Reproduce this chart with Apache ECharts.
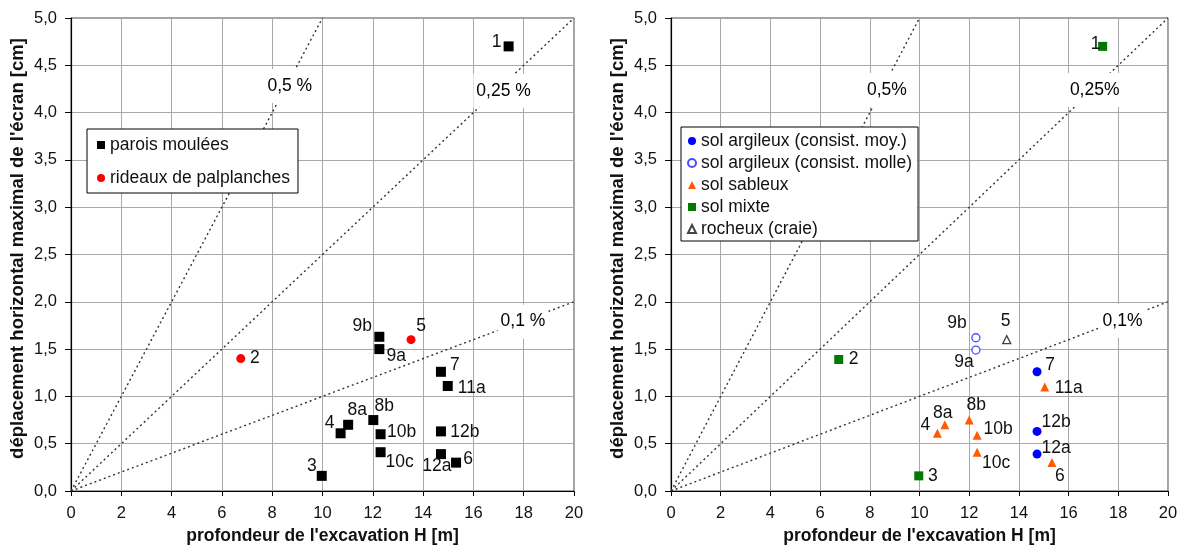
<!DOCTYPE html>
<html><head><meta charset="utf-8">
<script src="https://cdn.jsdelivr.net/npm/echarts@6/dist/echarts.min.js"></script>
<style>html,body{margin:0;padding:0;background:#fff}#c{width:1186px;height:552px}</style>
</head><body><div id="c"></div>
<script>
// ---------- DATA ----------
const xTicks = [0, 2, 4, 6, 8, 10, 12, 14, 16, 18, 20];
const yTicks = [0, 0.5, 1, 1.5, 2, 2.5, 3, 3.5, 4, 4.5, 5];

// Left chart
const paroisNames = ['1', '3', '4', '8a', '8b', '9b', '9a', '10b', '10c', '7', '11a', '12b', '12a', '6'];
const paroisH = [17.4, 9.97, 10.72, 11.02, 12.02, 12.26, 12.26, 12.31, 12.31, 14.71, 14.98, 14.71, 14.71, 15.31];
const paroisD = [4.70, 0.16, 0.61, 0.70, 0.75, 1.63, 1.50, 0.60, 0.41, 1.26, 1.11, 0.63, 0.39, 0.30];
const rideauxNames = ['2', '5'];
const rideauxH = [6.75, 13.52];
const rideauxD = [1.40, 1.60];

// Right chart
const argMoyNames = ['7', '12b', '12a'];
const argMoyH = [14.73, 14.73, 14.73];
const argMoyD = [1.26, 0.63, 0.39];
const argMolleNames = ['9b', '9a'];
const argMolleH = [12.27, 12.27];
const argMolleD = [1.62, 1.49];
const sableuxNames = ['11a', '8b', '8a', '4', '10b', '10c', '6'];
const sableuxH = [15.04, 12.0, 11.02, 10.72, 12.32, 12.32, 15.33];
const sableuxD = [1.10, 0.75, 0.70, 0.61, 0.59, 0.41, 0.30];
const mixteNames = ['1', '2', '3'];
const mixteH = [17.37, 6.75, 9.97];
const mixteD = [4.70, 1.39, 0.16];
const rocheuxNames = ['5'];
const rocheuxH = [13.51];
const rocheuxD = [1.60];

// Reference lines (ratio displacement / depth)
const refLineEnds = [[10, 5], [20, 5], [20, 2]];
const refLabelsLeft = ['0,5 %', '0,25 %', '0,1 %'];
const refLabelsRight = ['0,5%', '0,25%', '0,1%'];
const refLabelAtLeft = [[8.7, 4.28], [17.2, 4.23], [17.97, 1.79]];
const refLabelAtRight = [[8.69, 4.24], [17.05, 4.24], [18.17, 1.80]];

// ---------- STYLE / LAYOUT ----------
const FONT = '"Liberation Sans", Arial, sans-serif';
const TXT = '#111';
const offL = {'1':[-12,-4],'2':[14,0],'3':[-10,-10],'4':[-11,-10],'8a':[9,-15],'8b':[11,-14],'9b':[-17,-11],'9a':[17,7],'5':[10,-13],'10b':[21,-2],'10c':[19,10],'7':[14,-7],'11a':[24,2],'12b':[24,1],'12a':[-4,12],'6':[12,-3]};
const offR = {'1':[-7,-2],'2':[15,0],'3':[14,0],'4':[-12,-8],'8a':[-2,-12],'8b':[7,-15],'9b':[-19,-15],'9a':[-12,12],'5':[-1,-18],'10b':[21,-6],'10c':[19,11],'7':[13,-7],'11a':[24,1],'12b':[19,-9],'12a':[19,-6],'6':[8,14]};

function pts(names, H, D, off) {
  return names.map((n, i) => ({ value: [H[i], D[i]], name: n, label: { offset: off[n] || [0, 0] } }));
}
const ptLabel = { show: true, position: 'inside', formatter: '{b}', color: TXT, fontSize: 17.5, fontFamily: FONT };

function axes(idx) {
  const x = {
    gridIndex: idx, type: 'value', min: 0, max: 20, interval: 2,
    name: "profondeur de l'excavation H [m]", nameLocation: 'middle', nameGap: 36,
    nameTextStyle: { fontWeight: 'bold', fontSize: 17.5, color: TXT, fontFamily: FONT },
    axisLine: { onZero: false, lineStyle: { color: '#000', width: 1.2 } },
    axisTick: { show: true, length: 5, lineStyle: { color: '#000' } },
    axisLabel: { margin: 14, fontSize: 16.5, color: TXT, fontFamily: FONT, formatter: v => xTicks.includes(v) ? String(v) : '' },
    splitLine: { show: true, lineStyle: { color: '#a8a8a8', width: 1 } }
  };
  const y = {
    gridIndex: idx, type: 'value', min: 0, max: 5, interval: 0.5,
    name: "déplacement horizontal maximal de l'écran [cm]", nameLocation: 'middle', nameGap: 44,
    nameTextStyle: { fontWeight: 'bold', fontSize: 18.5, color: TXT, fontFamily: FONT, padding: [0, 0, 0, 12] },
    axisLine: { onZero: false, lineStyle: { color: '#000', width: 1.2 } },
    axisTick: { show: true, length: 6, lineStyle: { color: '#000' } },
    axisLabel: { margin: 14, fontSize: 16.5, color: TXT, fontFamily: FONT, formatter: v => yTicks.some(t => Math.abs(t - v) < 1e-9) ? v.toFixed(1).replace('.', ',') : '' },
    splitLine: { show: true, lineStyle: { color: '#a8a8a8', width: 1 } }
  };
  return [x, y];
}
const [x0, y0] = axes(0);
const [x1, y1] = axes(1);

function refSeries(idx, labels, at) {
  const s = [];
  refLineEnds.forEach((e, i) => {
    s.push({ name: 'ref' + idx + '_' + i, type: 'line', xAxisIndex: idx, yAxisIndex: idx, data: [[0, 0], e], symbol: 'none', silent: true, z: 2,
      lineStyle: { type: [2, 3], color: '#333', width: 1.4 } });
  });
  s.push({ name: 'reflab' + idx, type: 'scatter', xAxisIndex: idx, yAxisIndex: idx, symbol: 'rect', symbolSize: 1, silent: true, z: 3,
    itemStyle: { opacity: 1, color: '#fff' },
    data: at.map((p, i) => ({ value: p, name: labels[i] })),
    label: { show: true, position: 'inside', formatter: '{b}', color: '#000', opacity: 1, fontSize: 17.5, fontFamily: FONT, backgroundColor: '#fff', padding: [8, 3] } });
  return s;
}

const option = {
  animation: false,
  backgroundColor: '#fff',
  grid: [
    { left: 71, right: 612, top: 18, bottom: 61, show: true, borderColor: '#444', borderWidth: 1 },
    { left: 671, right: 18, top: 18, bottom: 61, show: true, borderColor: '#444', borderWidth: 1 }
  ],
  xAxis: [x0, x1],
  yAxis: [y0, y1],
  legend: [
    { data: ['parois moulées', 'rideaux de palplanches'], orient: 'vertical', left: 87, top: 129,
      backgroundColor: '#fff', borderColor: '#000', borderWidth: 1, padding: [7, 8, 6, 10], itemGap: 15,
      itemWidth: 8, itemHeight: 8, textStyle: { fontSize: 17.5, color: TXT, fontFamily: FONT }, selectedMode: false },
    { data: ['sol argileux (consist. moy.)', 'sol argileux (consist. molle)', 'sol sableux', 'sol mixte', 'rocheux (craie)'],
      orient: 'vertical', left: 681, top: 127,
      backgroundColor: '#fff', borderColor: '#000', borderWidth: 1, padding: [5, 6, 3, 6], itemGap: 4,
      itemWidth: 8, itemHeight: 8, textStyle: { fontSize: 17.5, color: TXT, fontFamily: FONT }, selectedMode: false }
  ],
  series: [
    ...refSeries(0, refLabelsLeft, refLabelAtLeft),
    ...refSeries(1, refLabelsRight, refLabelAtRight),
    { name: 'parois moulées', type: 'scatter', xAxisIndex: 0, yAxisIndex: 0, symbol: 'rect', symbolSize: 10, z: 5,
      itemStyle: { color: '#000', opacity: 1 }, label: ptLabel, data: pts(paroisNames, paroisH, paroisD, offL) },
    { name: 'rideaux de palplanches', type: 'scatter', xAxisIndex: 0, yAxisIndex: 0, symbol: 'circle', symbolSize: 9, z: 5,
      itemStyle: { color: '#ff0000', opacity: 1 }, label: ptLabel, data: pts(rideauxNames, rideauxH, rideauxD, offL) },
    { name: 'sol argileux (consist. moy.)', type: 'scatter', xAxisIndex: 1, yAxisIndex: 1, symbol: 'circle', symbolSize: 9, z: 5,
      itemStyle: { color: '#0000ff', opacity: 1 }, label: ptLabel, data: pts(argMoyNames, argMoyH, argMoyD, offR) },
    { name: 'sol argileux (consist. molle)', type: 'scatter', xAxisIndex: 1, yAxisIndex: 1, symbol: 'circle', symbolSize: 8, z: 5,
      itemStyle: { color: '#fff', borderColor: '#4b4bff', borderWidth: 1.3, opacity: 1 }, label: ptLabel, data: pts(argMolleNames, argMolleH, argMolleD, offR) },
    { name: 'sol sableux', type: 'scatter', xAxisIndex: 1, yAxisIndex: 1, symbol: 'triangle', symbolSize: 9, z: 5,
      itemStyle: { color: '#ff5a00', opacity: 1 }, label: ptLabel, data: pts(sableuxNames, sableuxH, sableuxD, offR) },
    { name: 'sol mixte', type: 'scatter', xAxisIndex: 1, yAxisIndex: 1, symbol: 'rect', symbolSize: 9, z: 5,
      itemStyle: { color: '#007a00', opacity: 1 }, label: ptLabel, data: pts(mixteNames, mixteH, mixteD, offR) },
    { name: 'rocheux (craie)', type: 'scatter', xAxisIndex: 1, yAxisIndex: 1, symbol: 'triangle', symbolSize: 8, z: 5,
      itemStyle: { color: '#fff', borderColor: '#444', borderWidth: 1.3, opacity: 1 }, label: ptLabel, data: pts(rocheuxNames, rocheuxH, rocheuxD, offR) }
  ]
};
const chart = echarts.init(document.getElementById('c'), null, { renderer: 'canvas' });
chart.setOption(option);
</script>
</body></html>
